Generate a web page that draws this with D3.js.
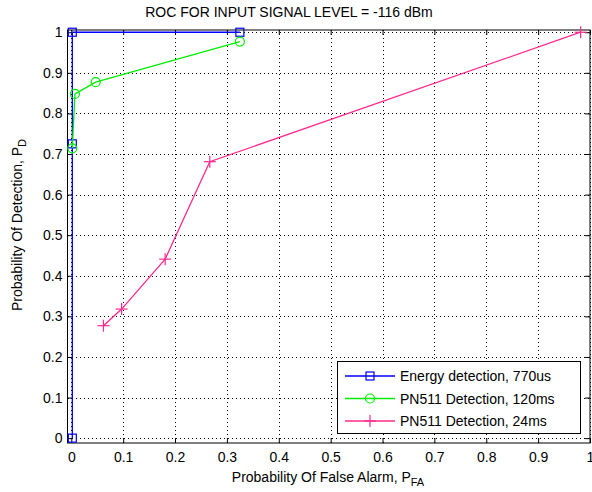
<!DOCTYPE html>
<html>
<head>
<meta charset="utf-8">
<script src="https://cdn.jsdelivr.net/npm/d3@7"></script>
<style>
  body { margin: 0; background: #fff; }
  text { font-family: "Liberation Sans", Arial, sans-serif; fill: #000; }
</style>
</head>
<body>
<div id="chart"></div>
<script>
// ROC curves
const energyFA = [0.002, 0.002, 0.002, 0.325];
const energyPD = [0, 0.725, 1, 1];
const pn120FA = [0.002, 0.007, 0.047, 0.325];
const pn120PD = [0.714, 0.848, 0.877, 0.977];
const pn24FA = [0.062, 0.097, 0.181, 0.267, 0.982];
const pn24PD = [0.277, 0.318, 0.441, 0.681, 1.0];

const xTicks = [0, 0.1, 0.2, 0.3, 0.4, 0.5, 0.6, 0.7, 0.8, 0.9, 1];
const xTickLabels = ["0", "0.1", "0.2", "0.3", "0.4", "0.5", "0.6", "0.7", "0.8", "0.9", "1"];
const yTicks = [0, 0.1, 0.2, 0.3, 0.4, 0.5, 0.6, 0.7, 0.8, 0.9, 1];
const yTickLabels = ["0", "0.1", "0.2", "0.3", "0.4", "0.5", "0.6", "0.7", "0.8", "0.9", "1"];

const seriesNames = ["Energy detection, 770us", "PN511 Detection, 120ms", "PN511 Detection, 24ms"];
const seriesColors = ["#0000ff", "#00ee00", "#ff2a8f"];
const seriesMarkers = ["square", "circle", "plus"];

const W = 592, H = 492;
const margin = {left: 67.5, right: 590, top: 30, bottom: 443};

const svg = d3.select("#chart").append("svg")
    .attr("width", W)
    .attr("height", H);

const x = d3.scaleLinear().domain([-0.0073, 1]).range([margin.left, margin.right]);
const y = d3.scaleLinear().domain([-0.012, 1.0055]).range([margin.bottom, margin.top]);

// grid
const grid = svg.append("g").attr("stroke", "#000").attr("stroke-width", 1)
    .attr("stroke-dasharray", "1,3").attr("shape-rendering", "crispEdges");
grid.selectAll(".gx").data(xTicks).enter().append("line")
    .attr("x1", d => Math.round(x(d)) + 0.5).attr("x2", d => Math.round(x(d)) + 0.5)
    .attr("y1", margin.top).attr("y2", margin.bottom);
grid.selectAll(".gy").data(yTicks).enter().append("line")
    .attr("y1", d => Math.round(y(d)) + 0.5).attr("y2", d => Math.round(y(d)) + 0.5)
    .attr("x1", margin.left).attr("x2", margin.right);

// axes (ticks inward on all sides)
const fmtX = (d, i) => xTickLabels[i];
const fmtY = (d, i) => yTickLabels[i];

svg.append("g").attr("transform", `translate(0,${margin.bottom})`)
    .call(d3.axisBottom(x).tickValues(xTicks).tickFormat(fmtX).tickSize(-5).tickPadding(9))
    .call(g => g.select(".domain").remove())
    .call(g => g.selectAll("text").style("font-size", "14px").style("font-family", "Liberation Sans, Arial, sans-serif"));
svg.append("g").attr("transform", `translate(0,${margin.top})`)
    .call(d3.axisTop(x).tickValues(xTicks).tickFormat("").tickSize(-5))
    .call(g => g.select(".domain").remove());
svg.append("g").attr("transform", `translate(${margin.left},0)`)
    .call(d3.axisLeft(y).tickValues(yTicks).tickFormat(fmtY).tickSize(-5).tickPadding(5))
    .call(g => g.select(".domain").remove())
    .call(g => g.selectAll("text").style("font-size", "14px").style("font-family", "Liberation Sans, Arial, sans-serif"));
svg.append("g").attr("transform", `translate(${margin.right},0)`)
    .call(d3.axisRight(y).tickValues(yTicks).tickFormat("").tickSize(-5))
    .call(g => g.select(".domain").remove());

svg.append("rect")
    .attr("x", margin.left).attr("y", margin.top)
    .attr("width", margin.right - margin.left).attr("height", margin.bottom - margin.top)
    .attr("fill", "none").attr("stroke", "#000").attr("stroke-width", 1);

// marker drawing
function drawMarker(g, type, cx, cy, color) {
    if (type === "square") {
        g.append("rect").attr("x", cx - 4).attr("y", cy - 4).attr("width", 8).attr("height", 8)
            .attr("fill", "none").attr("stroke", color).attr("stroke-width", 1.2);
    } else if (type === "circle") {
        g.append("circle").attr("cx", cx).attr("cy", cy).attr("r", 4.5)
            .attr("fill", "none").attr("stroke", color).attr("stroke-width", 1.2);
    } else {
        g.append("line").attr("x1", cx - 6).attr("x2", cx + 6).attr("y1", cy).attr("y2", cy)
            .attr("stroke", color).attr("stroke-width", 1.2);
        g.append("line").attr("x1", cx).attr("x2", cx).attr("y1", cy - 6).attr("y2", cy + 6)
            .attr("stroke", color).attr("stroke-width", 1.2);
    }
}

const allSeries = [
    {fa: energyFA, pd: energyPD},
    {fa: pn120FA, pd: pn120PD},
    {fa: pn24FA, pd: pn24PD}
];

const line = d3.line().x(d => x(d[0])).y(d => y(d[1]));

allSeries.forEach((s, k) => {
    const pts = s.fa.map((v, i) => [v, s.pd[i]]);
    const g = svg.append("g");
    g.append("path").datum(pts)
        .attr("d", line)
        .attr("fill", "none")
        .attr("stroke", seriesColors[k])
        .attr("stroke-width", 1.3);
    pts.forEach(p => drawMarker(g, seriesMarkers[k], x(p[0]), y(p[1]), seriesColors[k]));
});

// legend
const leg = svg.append("g");
leg.append("rect")
    .attr("x", 337.5).attr("y", 361.5).attr("width", 243).attr("height", 72)
    .attr("fill", "#fff").attr("stroke", "#000").attr("stroke-width", 1);
seriesNames.forEach((name, k) => {
    const ly = 376 + k * 22.5;
    leg.append("line").attr("x1", 345).attr("x2", 395).attr("y1", ly).attr("y2", ly)
        .attr("stroke", seriesColors[k]).attr("stroke-width", 1.3);
    drawMarker(leg, seriesMarkers[k], 370, ly, seriesColors[k]);
    leg.append("text").attr("x", 400).attr("y", ly + 5)
        .style("font-size", "14px").text(name);
});

// title
svg.append("text")
    .attr("x", 289).attr("y", 17)
    .attr("text-anchor", "middle")
    .style("font-size", "14px")
    .text("ROC FOR INPUT SIGNAL LEVEL = -116 dBm");

// axis labels
const xl = svg.append("text")
    .attr("x", 328).attr("y", 482)
    .attr("text-anchor", "middle")
    .style("font-size", "14px");
xl.append("tspan").text("Probability Of False Alarm, P");
xl.append("tspan").attr("dy", 4).style("font-size", "11px").text("FA");

const yl = svg.append("text")
    .attr("transform", "translate(22,225) rotate(-90)")
    .attr("text-anchor", "middle")
    .style("font-size", "14px");
yl.append("tspan").text("Probability Of Detection, P");
yl.append("tspan").attr("dy", 4).style("font-size", "11px").text("D");
</script>
</body>
</html>
